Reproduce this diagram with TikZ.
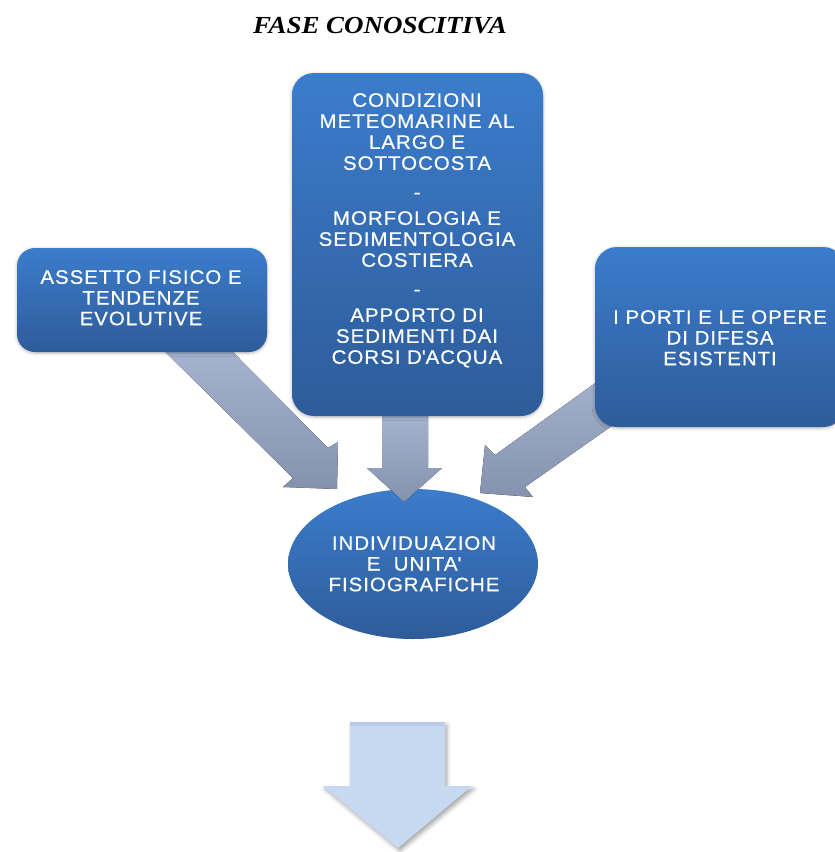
\documentclass[tikz,border=0pt]{standalone}
\usepackage{fontspec}
\setmainfont{Liberation Serif}
\newfontfamily\boxfont[FakeStretch=1.05,LetterSpace=5,FakeBold=0.4]{Liberation Sans}
\newfontfamily\titlefont[FakeStretch=1.1]{Liberation Serif}
\usetikzlibrary{shadows.blur,shapes.geometric}
\definecolor{boxtop}{RGB}{59,124,204}
\definecolor{boxbot}{RGB}{46,92,153}
\definecolor{arrtop}{RGB}{170,184,212}
\definecolor{arrbot}{RGB}{132,146,174}
\definecolor{downfill}{RGB}{198,217,241}
\definecolor{downtop}{RGB}{184,203,232}
\begin{document}
\begin{tikzpicture}[x=1pt,y=-1pt,
  blockbox/.style={rectangle, rounded corners=18pt, top color=boxtop, bottom color=boxbot, draw=none, inner sep=0pt,
    blur shadow={shadow xshift=0pt, shadow yshift=-1pt, shadow blur radius=3pt, shadow opacity=30}},
  ovalbox/.style={ellipse, top color=boxtop, bottom color=boxbot, draw=none, inner sep=0pt},
  boxtext/.style={text=white, font=\boxfont\fontsize{19.5}{20.7}\selectfont, align=center, inner sep=0pt, anchor=north},
  flowarrow/.style={top color=arrtop, bottom color=arrbot, draw=none},
  downarrow/.style={fill=downfill, draw=none,
    blur shadow={shadow xshift=2pt, shadow yshift=-3pt, shadow blur radius=4pt, shadow opacity=35}}
]
\useasboundingbox (0,0) rectangle (835,852);

% title
\node[font=\titlefont\bfseries\itshape\fontsize{24.5}{30}\selectfont, anchor=base, inner sep=0pt] (title) at (380,33) {FASE CONOSCITIVA};

% ellipse
\node[ovalbox, minimum width=250pt, minimum height=150pt] (oval) at (413,564) {};

% block arrows
\fill[flowarrow] (143,330) -- (293,478) -- (283,487) -- (337,489) -- (338,442) -- (328,448) -- (211,330) -- cycle;
\fill[flowarrow] (382,400) -- (382,468) -- (367,468) -- (404,502) -- (442,468) -- (428,468) -- (428,400) -- cycle;
\fill[flowarrow] (640,351) -- (495,455) -- (485,445) -- (480,493) -- (533,497) -- (525,487) -- (650,399) -- cycle;

% boxes
\node[blockbox, minimum width=250pt, minimum height=104pt] (leftbox) at (142,300) {};
\node[blockbox, minimum width=251pt, minimum height=343pt, rounded corners=22pt] (midbox) at (417.5,244.5) {};
\node[blockbox, minimum width=250pt, minimum height=180pt, rounded corners=22pt] (rightbox) at (720,337) {};

% texts
\node[boxtext] (lefttext) at (141,270) {ASSETTO FISICO E\\TENDENZE\\EVOLUTIVE};
\node[boxtext, font=\boxfont\fontsize{19.5}{21}\selectfont] (midtext) at (417,93)
  {CONDIZIONI\\METEOMARINE AL\\LARGO E\\SOTTOCOSTA\\[8pt]-\\[5pt]MORFOLOGIA E\\SEDIMENTOLOGIA\\COSTIERA\\[8pt]-\\[5pt]APPORTO DI\\SEDIMENTI DAI\\CORSI D\textquotesingle ACQUA};
\node[boxtext] (righttext) at (720,310) {I PORTI E LE OPERE\\DI DIFESA\\ESISTENTI};
\node[boxtext] (ovaltext) at (414,536) {INDIVIDUAZION\\E\ \ UNITA\textquotesingle\\FISIOGRAFICHE};

% bottom arrow
\fill[downarrow] (350,722) -- (445,722) -- (445,786) -- (472,786) -- (398,848) -- (323,786) -- (350,786) -- cycle;
\fill[downtop] (350,722) rectangle (445,726);
\end{tikzpicture}
\end{document}
